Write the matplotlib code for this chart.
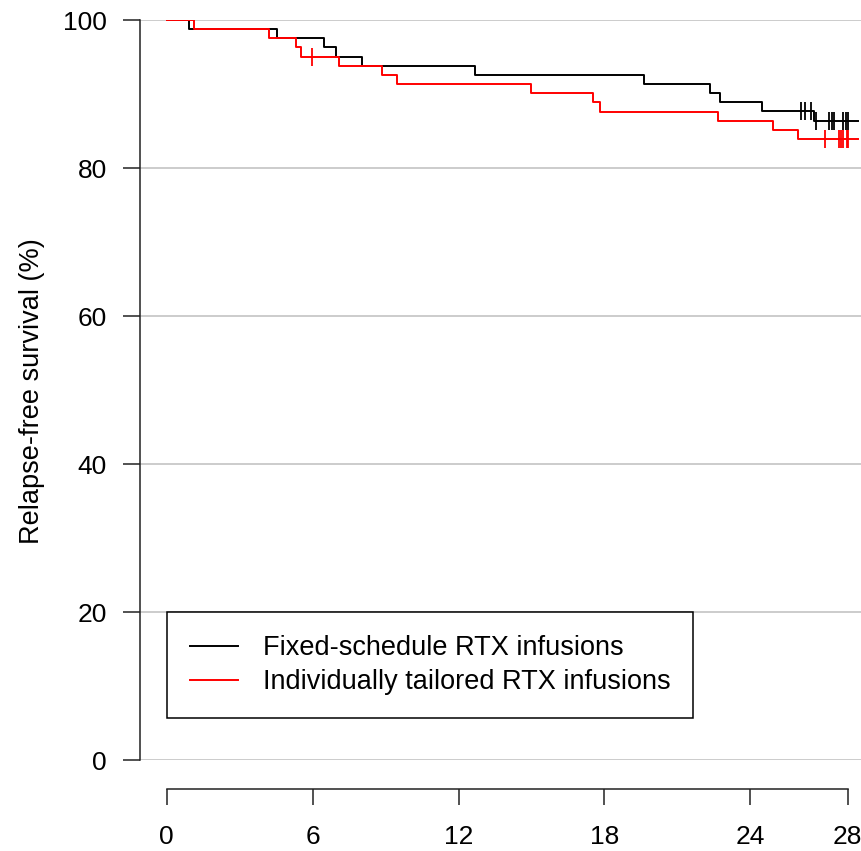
import numpy as np
import matplotlib
matplotlib.use("Agg")
import matplotlib.pyplot as plt

plt.rcParams['font.family'] = ['Liberation Sans', 'DejaVu Sans']

# ---- data (months, % relapse-free survival) ----
fixed_times = [0, 0.92, 4.55, 6.48, 6.96, 8.03, 12.69, 19.63, 22.34, 22.75, 24.49, 26.60]
fixed_surv = [100, 98.77, 97.53, 96.30, 95.06, 93.83, 92.59, 91.36, 90.12, 88.89, 87.65, 86.4]
fixed_end = 28.44
fixed_censor = [26.07, 26.23, 26.48, 26.70, 27.23, 27.34, 27.45, 27.82, 27.93, 28.03]

tailored_times = [0, 1.13, 4.21, 5.32, 5.53, 7.10, 8.85, 9.46, 14.97, 17.52, 17.82, 22.68, 24.91, 25.96]
tailored_surv = [100, 98.77, 97.53, 96.30, 95.06, 93.8, 92.6, 91.4, 90.1, 88.9, 87.6, 86.4, 85.1, 83.9]
tailored_end = 28.44
tailored_censor = [5.99, 27.07, 27.63, 27.71, 27.80, 27.96, 28.03]

labels = ["Fixed-schedule RTX infusions", "Individually tailored RTX infusions"]
colors = ["black", "red"]
x_ticks = [0, 6, 12, 18, 24, 28]
y_ticks = [0, 20, 40, 60, 80, 100]

W, H = 862, 851
fig = plt.figure(figsize=(W / 100, H / 100), dpi=100)
ax = fig.add_axes([140 / W, 91 / H, 722 / W, 740 / H])
ax.set_xlim(-1.098, 28.59)
ax.set_ylim(0, 100)

for y in y_ticks:
    ax.axhline(y, color='#c4c4c4', lw=1.2, zorder=0)

def km(times, surv, end):
    t = list(times) + [end]
    s = list(surv) + [surv[-1]]
    return t, s

def level_at(times, surv, t):
    idx = np.searchsorted(times, t, side='right') - 1
    return surv[idx]

series = [(fixed_times, fixed_surv, fixed_end, fixed_censor),
          (tailored_times, tailored_surv, tailored_end, tailored_censor)]
handles = []
for (tt, ss, end, cens), col, lab in zip(series, colors, labels):
    t, s = km(tt, ss, end)
    h, = ax.step(t, s, where='post', color=col, lw=1.4, label=lab, zorder=3)
    handles.append(h)
    cy = [level_at(tt, ss, c) for c in cens]
    ax.plot(cens, cy, linestyle='none', marker='|', markersize=12.5,
            markeredgewidth=1.3, color=col, zorder=3)

for side in ['top', 'right']:
    ax.spines[side].set_visible(False)
ax.spines['left'].set_bounds(0, 100)
ax.spines['left'].set_linewidth(1.1)
ax.spines['left'].set_color('#222222')
ax.spines['bottom'].set_position(('outward', 20.9))
ax.spines['bottom'].set_bounds(0, 28)
ax.spines['bottom'].set_linewidth(1.1)
ax.spines['bottom'].set_color('#222222')

ax.set_xticks(x_ticks)
ax.set_xticklabels([str(v) for v in x_ticks])
ax.set_yticks(y_ticks)
ax.set_yticklabels([str(v) for v in y_ticks])
ax.tick_params(axis='x', direction='out', length=11.5, width=1.1, color='#222222',
               pad=14.5, labelsize=19)
ax.tick_params(axis='y', direction='out', length=12.2, width=1.1, color='#222222',
               pad=11.5, labelsize=19)

fig.text(32 / W, 1 - 391 / H, "Relapse-free survival (%)", rotation=90,
         ha='center', va='center', fontsize=19.5)

leg = ax.legend(handles=handles, labels=labels, loc='upper left',
                bbox_to_anchor=(0, 20), bbox_transform=ax.transData,
                borderaxespad=0, fontsize=19.5, handlelength=1.8,
                handletextpad=0.9, borderpad=0.85, labelspacing=0.3,
                fancybox=False, framealpha=1, facecolor='white', edgecolor='black')
leg.get_frame().set_linewidth(1.1)
leg.set_zorder(5)

fig.savefig("out.png", dpi=100)
